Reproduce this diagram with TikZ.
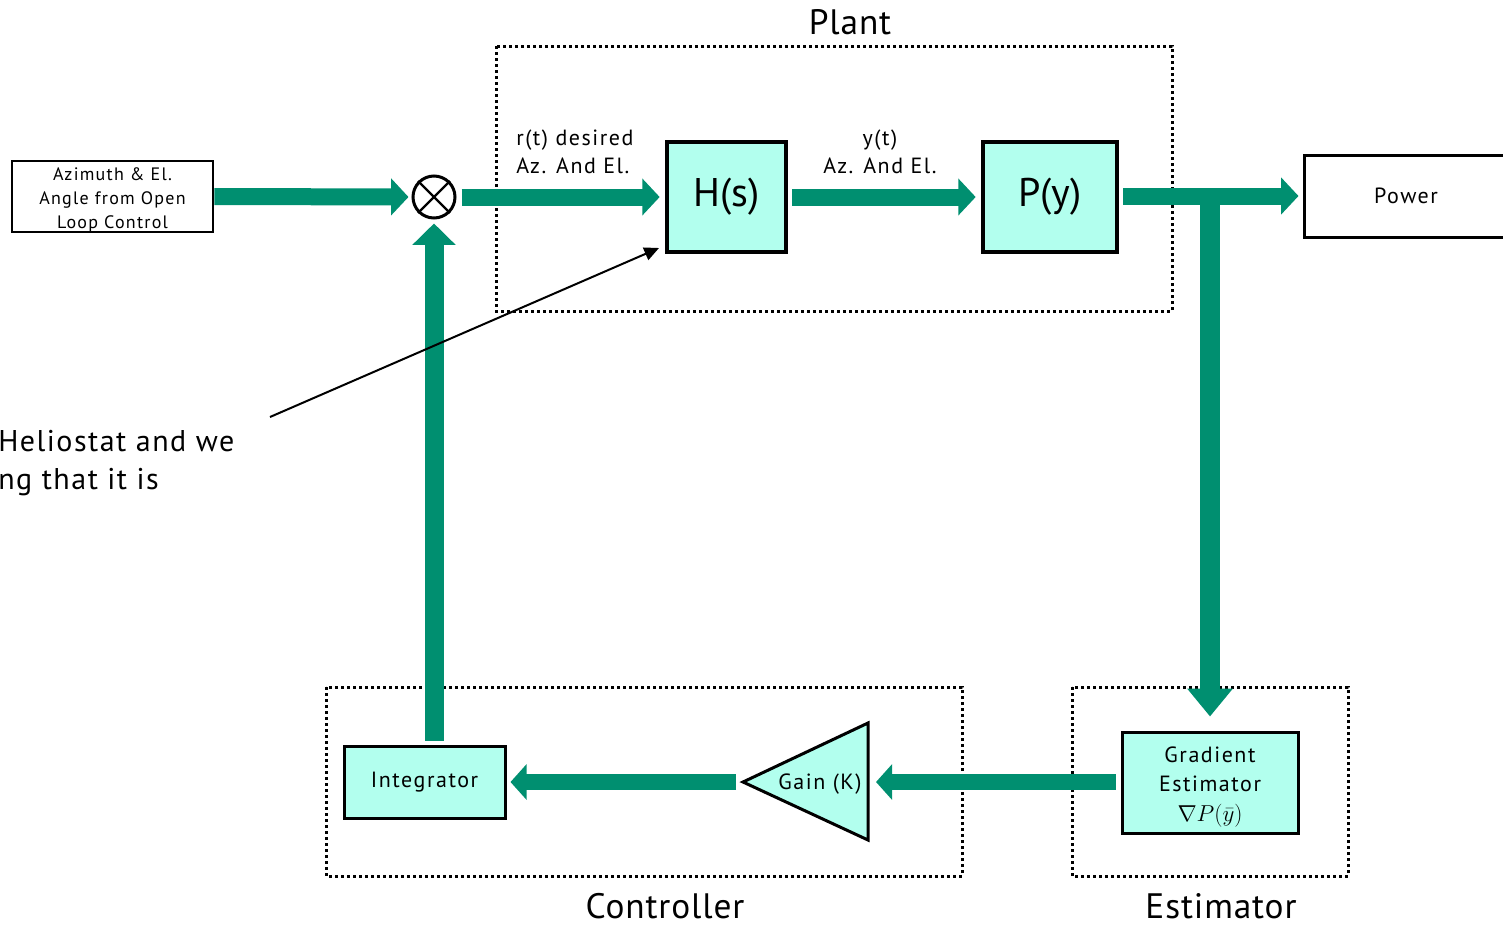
\documentclass[tikz,border=0pt]{standalone}
\usepackage{fontspec}
\setmainfont{PT Sans}
\newfontfamily\spacedfont[LetterSpace=7]{PT Sans}
\newfontfamily\lightspaced[LetterSpace=5]{PT Sans}
\newfontfamily\groupfont[LetterSpace=2.5]{PT Sans}
\usetikzlibrary{arrows.meta,calc}
\definecolor{flowgreen}{RGB}{0,143,112}
\definecolor{boxcyan}{RGB}{178,255,238}
\tikzset{
  plainbox/.style={draw, line width=2pt, fill=white, inner sep=0pt, align=center},
  cyanbox/.style={draw, line width=2.25pt, fill=boxcyan, inner sep=0pt, align=center},
  bigbox/.style={draw, line width=3pt, fill=boxcyan, inner sep=0pt, align=center, font=\fontsize{30}{36}\selectfont},
  groupbox/.style={draw, line width=2.25pt, dash pattern=on 2.25pt off 2.25pt},
  flowh/.style={draw=flowgreen, line width=12.75pt, -{Triangle[width=27pt,length=13pt]}},
  flowup/.style={draw=flowgreen, line width=14.25pt, -{Triangle[width=31.5pt,length=16pt]}},
  flowdown/.style={draw=flowgreen, line width=15pt, -{Triangle[width=33pt,length=21pt]}},
  flowlow/.style={draw=flowgreen, line width=12pt, -{Triangle[width=26pt,length=12pt]}},
  grouplabel/.style={font=\groupfont\fontsize{26.5}{30}\selectfont, inner sep=0pt},
  bodytext/.style={font=\spacedfont\fontsize{16.5}{21.75}\selectfont},
  smalllabel/.style={font=\spacedfont\fontsize{16.5}{21}\selectfont, inner sep=0pt}
}
\begin{document}
\begin{tikzpicture}[x=0.75pt,y=-0.75pt]
\useasboundingbox (0,0) rectangle (1503,925);
\clip (0,0) rectangle (1503,925);

% group boxes
\draw[groupbox] (496,46) rectangle (1172,311);
\draw[groupbox] (326,687) rectangle (962,876);
\draw[groupbox] (1072,687) rectangle (1348,876);
\node[grouplabel] (plantlbl) at (850,22) {Plant};
\node[grouplabel] (ctrllbl) at (665,906) {Controller};
\node[grouplabel] (estlbl) at (1221,906) {Estimator};

% blocks
\node[plainbox, minimum width=150.75pt, minimum height=53.25pt] (src) at (112.5,196.5) {};
\node[inner sep=0pt, align=center, font=\spacedfont\fontsize{13.5}{18}\selectfont] (srctext) at (112.5,199.5) {Azimuth \& El.\\Angle from Open\\Loop Control};
\node[circle, draw, line width=2.25pt, minimum size=31.5pt, inner sep=0pt] (sum) at (434,197) {};
\draw[line width=1.8pt] (sum.north west) -- (sum.south east) (sum.north east) -- (sum.south west);
\node[bigbox, minimum width=89.25pt, minimum height=82.5pt] (H) at (726.5,197) {\raisebox{-2.25pt}{H(s)}};
\node[bigbox, minimum width=100.5pt, minimum height=82.5pt] (P) at (1050,197) {\raisebox{-1.5pt}{P(y)}};
\node[plainbox, line width=2.25pt, minimum width=153pt, minimum height=61.5pt, bodytext] (power) at (1406,196) {Power};

\node[cyanbox, minimum width=120.75pt, minimum height=54pt, bodytext] (integ) at (424.5,782) {\raisebox{-1.5pt}{Integrator}};
\node[cyanbox, minimum width=132pt, minimum height=75.75pt] (grad) at (1210,782.5) {};
\node[bodytext, align=center, inner sep=0pt] (gradtext) at (1210,787) {Gradient\\Estimator\\[1pt]$\nabla P(\bar{y})$};

% gain triangle
\coordinate (gtip) at (743,782);
\coordinate (gtop) at (868,723);
\coordinate (gbot) at (868,840);
\coordinate (gright) at (868,782);
\draw[line width=2.25pt, fill=boxcyan, line join=miter] (gtip) -- (gtop) -- (gbot) -- cycle;
\node[bodytext, inner sep=0pt] (gainlbl) at (820,784) {Gain (K)};

% labels on flows
\node[smalllabel, align=left, anchor=west] (rlbl) at (516,152) {r(t) desired\\Az. And El.};
\node[smalllabel, align=center] (ylbl) at (880,152) {y(t)\\Az. And El.};

% flows
\draw[flowh, shorten >=2.25pt] (src.east) -- (sum.west);
\draw[flowh, shorten <=3.75pt, shorten >=4pt] (sum.east) -- (H.west);
\draw[flowh, shorten <=3pt, shorten >=4pt] (H.east) -- (P.west);
\draw[flowh, shorten <=3pt, shorten >=3pt] ($(P.east)+(0,-1)$) -- ($(power.west)+(0,0)$);
\coordinate (br) at (1210,196);
\draw[flowdown, shorten >=10.5pt] (br) -- (br |- grad.north);
\draw[flowlow, shorten <=3.75pt, shorten >=6pt] (gright -| grad.west) -- (gright);
\draw[flowlow, shorten <=5.25pt, shorten >=3pt] (gtip) -- (integ.east);
\draw[flowup, shorten <=3pt, shorten >=3pt] (sum |- integ.north) -- (sum.south);

% annotation
\coordinate (annot) at (270,417);
\draw[line width=1.5pt, -{Triangle[width=10pt,length=11pt]}] (annot) -- ($(H.south west)+(-6,-6)$);
\node[anchor=west, inner sep=0pt, align=left, font=\lightspaced\fontsize{22.5}{28.5}\selectfont] (helio) at (-2,463) {Heliostat and we\\ng that it is};
\end{tikzpicture}
\end{document}
